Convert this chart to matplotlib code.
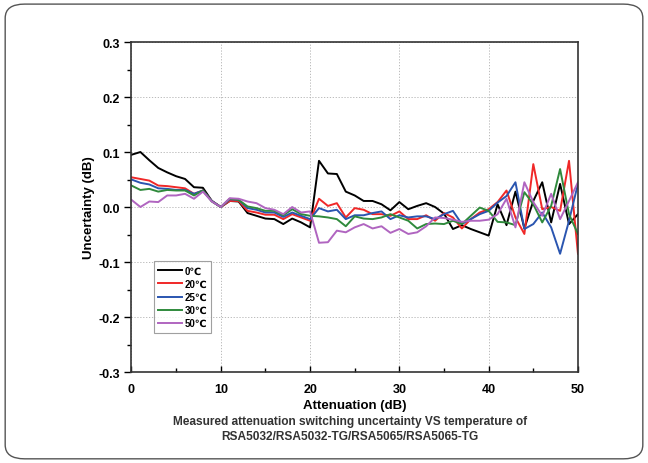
import numpy as np
import matplotlib
matplotlib.use('Agg')
import matplotlib.pyplot as plt
from matplotlib.patches import FancyBboxPatch
from matplotlib.ticker import MultipleLocator

plt.rcParams['font.family'] = ['Liberation Sans', 'DejaVu Sans']

# attenuation steps (dB)
atten = np.arange(0, 51)

# switching uncertainty (dB) at each temperature
unc_0c = [0.095, 0.100, 0.085, 0.071, 0.063, 0.056, 0.051, 0.036, 0.035, 0.011, 0.000,
          0.011, 0.010, -0.011, -0.016, -0.021, -0.022, -0.031, -0.021, -0.028, -0.037,
          0.084, 0.061, 0.060, 0.028, 0.021, 0.011, 0.011, 0.005, -0.006, 0.009,
          -0.004, 0.002, 0.007, 0.000, -0.012, -0.040, -0.033, -0.040, -0.046, -0.052,
          0.005, -0.033, 0.028, -0.039, 0.011, 0.045, -0.028, 0.042, -0.031, -0.013]
unc_20c = [0.054, 0.051, 0.048, 0.039, 0.038, 0.036, 0.034, 0.024, 0.030, 0.011, 0.000,
           0.011, 0.011, -0.007, -0.010, -0.014, -0.014, -0.022, -0.013, -0.019, -0.025,
           0.015, 0.002, 0.007, -0.019, -0.002, -0.005, -0.013, -0.013, -0.016, -0.008,
           -0.022, -0.022, -0.015, -0.025, -0.011, -0.019, -0.039, -0.022, -0.010, -0.004,
           0.009, 0.030, -0.019, -0.049, 0.078, -0.004, 0.000, -0.007, 0.084, -0.085]
unc_25c = [0.050, 0.044, 0.041, 0.034, 0.033, 0.031, 0.031, 0.024, 0.030, 0.011, 0.000,
           0.014, 0.013, -0.002, -0.005, -0.010, -0.010, -0.018, -0.010, -0.016, -0.022,
           -0.002, -0.008, -0.005, -0.022, -0.015, -0.015, -0.011, -0.008, -0.022, -0.015,
           -0.019, -0.017, -0.017, -0.022, -0.013, -0.007, -0.031, -0.022, -0.013, -0.007,
           0.008, 0.020, 0.045, -0.040, -0.031, -0.010, -0.037, -0.085, -0.025, 0.042]
unc_30c = [0.039, 0.031, 0.033, 0.028, 0.031, 0.030, 0.030, 0.021, 0.030, 0.010, 0.000,
           0.015, 0.013, 0.001, -0.002, -0.007, -0.007, -0.015, -0.004, -0.013, -0.016,
           -0.017, -0.019, -0.022, -0.035, -0.017, -0.021, -0.022, -0.019, -0.013, -0.019,
           -0.025, -0.039, -0.031, -0.030, -0.031, -0.025, -0.031, -0.016, -0.001, -0.007,
           -0.027, -0.028, -0.033, 0.027, 0.005, -0.028, 0.002, 0.069, -0.013, -0.049]
unc_50c = [0.013, 0.000, 0.010, 0.009, 0.021, 0.021, 0.024, 0.015, 0.028, 0.010, 0.000,
           0.016, 0.015, 0.010, 0.007, -0.002, -0.005, -0.013, 0.000, -0.010, -0.008,
           -0.065, -0.064, -0.043, -0.046, -0.037, -0.031, -0.039, -0.035, -0.047, -0.040,
           -0.049, -0.046, -0.035, -0.019, -0.020, -0.023, -0.027, -0.025, -0.025, -0.023,
           -0.013, 0.015, -0.037, 0.045, 0.009, -0.016, 0.024, -0.022, 0.011, 0.045]

labels = ['0℃', '20℃', '25℃', '30℃', '50℃']
colors = ['#000000', '#f02828', '#2a55b0', '#2f8a3c', '#b065c0']
series = [unc_0c, unc_20c, unc_25c, unc_30c, unc_50c]

fig = plt.figure(figsize=(6.48, 4.64), dpi=100)

# rounded frame around the whole figure
frame = FancyBboxPatch((0.008, 0.009), 0.984, 0.98, boxstyle='round,pad=0,rounding_size=0.03',
                       transform=fig.transFigure, fill=False, edgecolor='#555555', linewidth=1.0)
fig.patches.append(frame)

ax = fig.add_axes([0.2029, 0.1961, 0.689, 0.7112])

for y, lab, c in zip(series, labels, colors):
    ax.plot(atten, y, color=c, linewidth=1.4, label=lab)

ax.set_xlim(0, 50)
ax.set_ylim(-0.3, 0.3)
ax.xaxis.set_major_locator(MultipleLocator(10))
ax.xaxis.set_minor_locator(MultipleLocator(5))
ax.yaxis.set_major_locator(MultipleLocator(0.1))
ax.yaxis.set_minor_locator(MultipleLocator(0.05))
ax.set_yticklabels([f'{v:.1f}' for v in ax.get_yticks()])

ax.grid(True, which='major', linestyle=(0, (1.5, 2)), color='#b0b0b0', linewidth=0.6)
ax.tick_params(axis='y', which='major', direction='out', length=5, width=1, labelsize=9)
ax.tick_params(axis='y', which='minor', direction='out', length=3, width=1)
ax.tick_params(axis='x', which='major', direction='in', length=4, width=1, labelsize=9, pad=8)
ax.tick_params(axis='x', which='minor', direction='in', length=3, width=1)
for lbl in ax.get_xticklabels() + ax.get_yticklabels():
    lbl.set_fontweight('bold')
for sp in ax.spines.values():
    sp.set_color('#333333')
    sp.set_linewidth(1.2)

ax.set_xlabel('Attenuation (dB)', fontsize=9.5, fontweight='bold', labelpad=3)
ax.set_ylabel('Uncertainty (dB)', fontsize=9.5, fontweight='bold', labelpad=2)

leg = ax.legend(loc='upper left', bbox_to_anchor=(0.05, 0.336), fontsize=7,
                frameon=True, fancybox=False, handlelength=2.4, handletextpad=0.3,
                borderpad=0.45, labelspacing=0.33, borderaxespad=0)
leg.get_frame().set_edgecolor('#888888')
leg.get_frame().set_linewidth(0.8)
for t in leg.get_texts():
    t.set_fontweight('bold')

fig.text(0.540, 0.074, 'Measured attenuation switching uncertainty VS temperature of\nRSA5032/RSA5032-TG/RSA5065/RSA5065-TG',
         ha='center', va='center', fontsize=8.6, fontweight='bold', color='#333333', linespacing=1.3)

fig.savefig('out.png', dpi=100)
